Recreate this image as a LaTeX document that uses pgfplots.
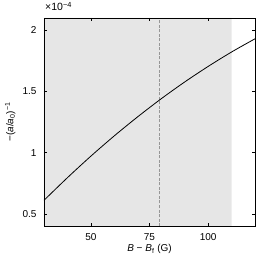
\documentclass[border=0pt]{standalone}
\usepackage{fontspec}
\setmainfont{Liberation Sans}
\usepackage{pgfplots}
\pgfplotsset{compat=1.18}
\definecolor{shade}{RGB}{230,230,230}
\definecolor{dashgray}{RGB}{150,150,150}
\begin{document}
\fontsize{10}{12}\selectfont
\begin{tikzpicture}
\begin{axis}[
  at={(0,0)}, anchor=south west,
  scale only axis,
  width=211pt, height=208pt,
  xmin=30, xmax=120, ymin=0.4, ymax=2.1,
  xtick={50,75,100}, ytick={0.5,1,1.5,2},
  yticklabels={0.5,1,1.5,2},
  tick align=inside,
  major tick length=3pt,
  tick style={black, line width=0.5pt},
  axis line style={line width=0.6pt},
  /pgf/number format/assume math mode=true,
  tick label style={font=\fontsize{10}{12}\selectfont},
  yticklabel style={xshift=-4pt},
  xticklabel style={yshift=-4pt},
  label style={font=\fontsize{11}{13}\selectfont},
  xlabel={\textit{B} − \textit{B}\textsubscript{f} (G)},
  ylabel={−(\textit{a}/\textit{a}\textsubscript{0})\textsuperscript{−1}},
  every axis x label/.style={at={(axis description cs:0.5,-0.11)}, anchor=center},
  every axis y label/.style={at={(axis description cs:-0.16,0.5)}, anchor=center, rotate=90},
  axis on top,
  clip mode=individual,
]
\addplot[fill=shade, draw=none] coordinates {(30,0.4) (110,0.4) (110,2.1) (30,2.1)} \closedcycle;
\addplot[dashgray, dash pattern=on 3pt off 1.5pt, line width=0.7pt] coordinates {(79,0.4) (79,2.1)};
\addplot[black, line width=0.8pt, smooth] coordinates {
(30,0.61) (40,0.795) (50,0.971) (60,1.137) (70,1.293) (80,1.440) (90,1.577) (100,1.704) (110,1.822) (120,1.930)};
\node[anchor=base west, inner sep=0pt, yshift=7pt, xshift=1pt, font=\fontsize{10.5}{12}\selectfont] at (rel axis cs:0,1) {×10\textsuperscript{−4}};
\end{axis}
\pgfresetboundingbox
\useasboundingbox (-44pt,-34pt) rectangle (216pt,226pt);
\end{tikzpicture}
\end{document}
